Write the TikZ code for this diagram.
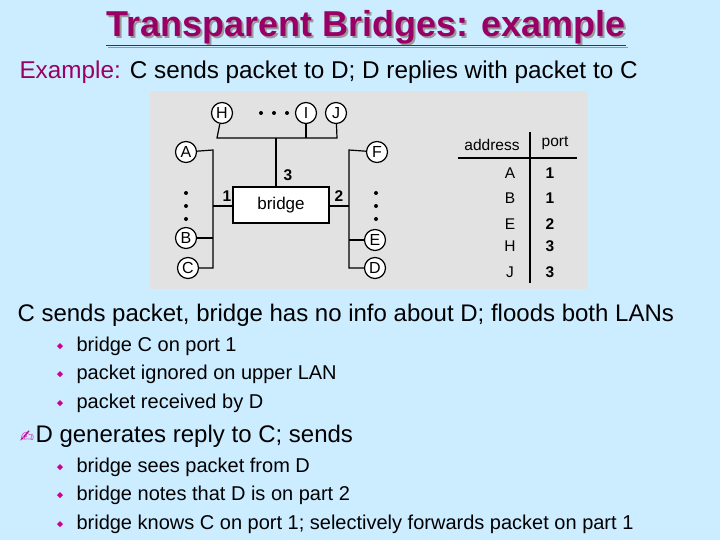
\documentclass[tikz,border=0pt]{standalone}
\usepackage{fontspec}
\setmainfont{Liberation Sans}
\newfontfamily\symfont{DejaVu Sans}
\usetikzlibrary{positioning}
\definecolor{slidebg}{RGB}{204,236,255}
\definecolor{panelbg}{RGB}{226,226,226}
\definecolor{titlecol}{RGB}{153,0,102}
\definecolor{bulletcol}{RGB}{204,0,153}
\tikzset{
  host/.style={draw,circle,line width=1.2pt,fill=white,minimum size=21pt,inner sep=0pt,font=\fontsize{16}{16}\selectfont},
  wire/.style={line width=1.2pt},
  bridgebox/.style={draw,line width=1.6pt,fill=white,minimum width=96pt,minimum height=36pt,font=\fontsize{17}{17}\selectfont},
  tab/.style={font=\fontsize{15.5}{15.5}\selectfont},
  num/.style={font=\bfseries\fontsize{15.5}{15.5}\selectfont},
  bigline/.style={anchor=west,font=\fontsize{24}{24}\selectfont},
  bulline/.style={anchor=west,font=\fontsize{20}{20}\selectfont}
}
\begin{document}
\begin{tikzpicture}[x=1pt,y=-1pt]
  \fill[slidebg] (0,0) rectangle (720,540);
  \useasboundingbox (0,0) rectangle (720,540);
  % title
  \node[text=black!40,font=\bfseries\fontsize{36}{36}\selectfont] at (368,30) {\underline{Transparent Bridges: example}};
  \node (title) [text=titlecol,font=\bfseries\fontsize{36}{36}\selectfont] at (366,28) {\underline{Transparent Bridges: example}};
  \node (intro) [anchor=west,font=\fontsize{24.3}{24.3}\selectfont] at (16,72) {\textcolor{titlecol}{Example:} C sends packet to D; D replies with packet to C};
  % figure
  \fill[panelbg] (150,91) rectangle (588,289);
  \node (br) [bridgebox] at (281,205) {bridge};
  \node (H) [host] at (222,113) {H};
  \node (I) [host] at (306,113) {I};
  \node (J) [host] at (336,113) {J};
  \node (A) [host] at (186,152) {A};
  \node (B) [host] at (186,238) {B};
  \node (C) [host] at (188,268) {C};
  \node (F) [host] at (377,152) {F};
  \node (E) [host] at (375,240) {E};
  \node (D) [host] at (375,268) {D};
  \coordinate (tr) at (337,138);
  \coordinate (lt) at (213,150);
  \coordinate (lb) at (213,268);
  \coordinate (rt) at (349,150);
  \coordinate (rb) at (349,268);
  \draw[wire] (H) -- (217,138) -- (tr) -- (J);
  \draw[wire] (I) -- (306,138);
  \draw[wire] (276,138) -- (br.north -| 276,0);
  \draw[wire] (A) -- (lt) -- (lb) -- (C);
  \draw[wire] (B) -- (213,238);
  \draw[wire] (213,206) -- (br.west |- 0,206);
  \draw[wire] (F) -- (rt) -- (rb) -- (D);
  \draw[wire] (E) -- (349,240);
  \draw[wire] (br.east |- 0,206) -- (349,206);
  \node at (227,196) [num] {1};
  \node at (339,196) [num] {2};
  \node at (288,175) [num] {3};
  \foreach \x in {261,274,287} \fill (\x,113) circle (2pt);
  \foreach \y in {193,206,219} {\fill (186,\y) circle (2pt); \fill (376,\y) circle (2pt);}
  % table
  \node (addr) [tab] at (492,145) {address};
  \node (port) [tab] at (555,143) {port};
  \draw[wire] (458,158) -- (577,158);
  \draw[line width=1.5pt] (530,132) -- (530,283);
  \foreach \a/\p/\y in {A/1/173,B/1/198,E/2/224,H/3/246,J/3/272}
    \node[tab] at (510,\y) {\a} node[num] at (550,\y) {\p};
  % text
  \node (l1) [bigline] at (14,315) {C sends packet, bridge has no info about D; floods both LANs};
  \foreach \t/\y in {bridge C on port 1/346,packet ignored on upper LAN/374,packet received by D/403,bridge sees packet from D/467,bridge notes that D is on part 2/495,bridge knows C on port 1; selectively forwards packet on part 1/524}{
    \fill[bulletcol] (60,\y-3) -- (63,\y) -- (60,\y+3) -- (57,\y) -- cycle;
    \node[bulline] at (73,\y) {\t};
  }
  \node (icon) [text=bulletcol,font=\symfont\fontsize{17}{17}\selectfont] at (27,437) {✍};
  \node (l2) [bigline] at (32,436) {D generates reply to C; sends};
\end{tikzpicture}
\end{document}
